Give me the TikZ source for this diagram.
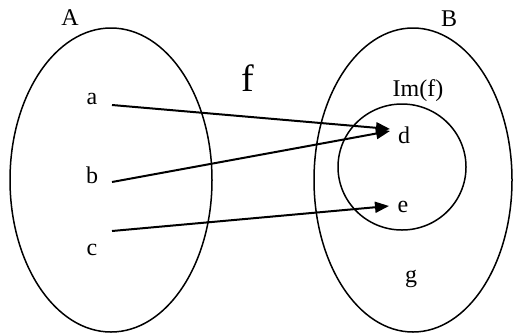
\documentclass[tikz,border=0pt]{standalone}
\usepackage{fontspec}
\setmainfont{Liberation Serif}
\usetikzlibrary{arrows.meta}
\begin{document}
\begin{tikzpicture}[x=1pt,y=-1pt,
  setline/.style={draw,line width=1.5pt},
  lab/.style={font=\fontsize{24}{28}\selectfont, inner sep=0pt},
  big/.style={font=\fontsize{38}{44}\selectfont, inner sep=0pt},
  map/.style={line width=2pt, -{Triangle[length=14pt,width=11pt]}}]
\useasboundingbox (0,0) rectangle (513,333);
% sets
\draw[setline] (111,180) ellipse [x radius=101, y radius=152];
\draw[setline] (413,180) ellipse [x radius=99, y radius=152];
\draw[setline] (402,167) ellipse [x radius=64, y radius=63];
% labels
\node[lab] (A) at (70,18) {A};
\node[lab] (B) at (449,19) {B};
\node[big] (f) at (248,78) {f};
\node[lab] (Im) at (418,91) {Im(f)};
\node[lab] (a) at (92,99) {a};
\node[lab] (b) at (92,175) {b};
\node[lab] (c) at (92,250) {c};
\node[lab] (d) at (404,135) {d};
\node[lab] (e) at (403,207) {e};
\node[lab] (g) at (411,279) {g};
% connector ends
\coordinate (a-out) at (112,105);
\coordinate (b-out) at (112,182);
\coordinate (c-out) at (112,231);
\coordinate (d-in1) at (390,129);
\coordinate (d-in2) at (390,131);
\coordinate (e-in) at (389,206);
% mapping
\draw[map] (a-out) -- (d-in1);
\draw[map] (b-out) -- (d-in2);
\draw[map] (c-out) -- (e-in);
\end{tikzpicture}
\end{document}
